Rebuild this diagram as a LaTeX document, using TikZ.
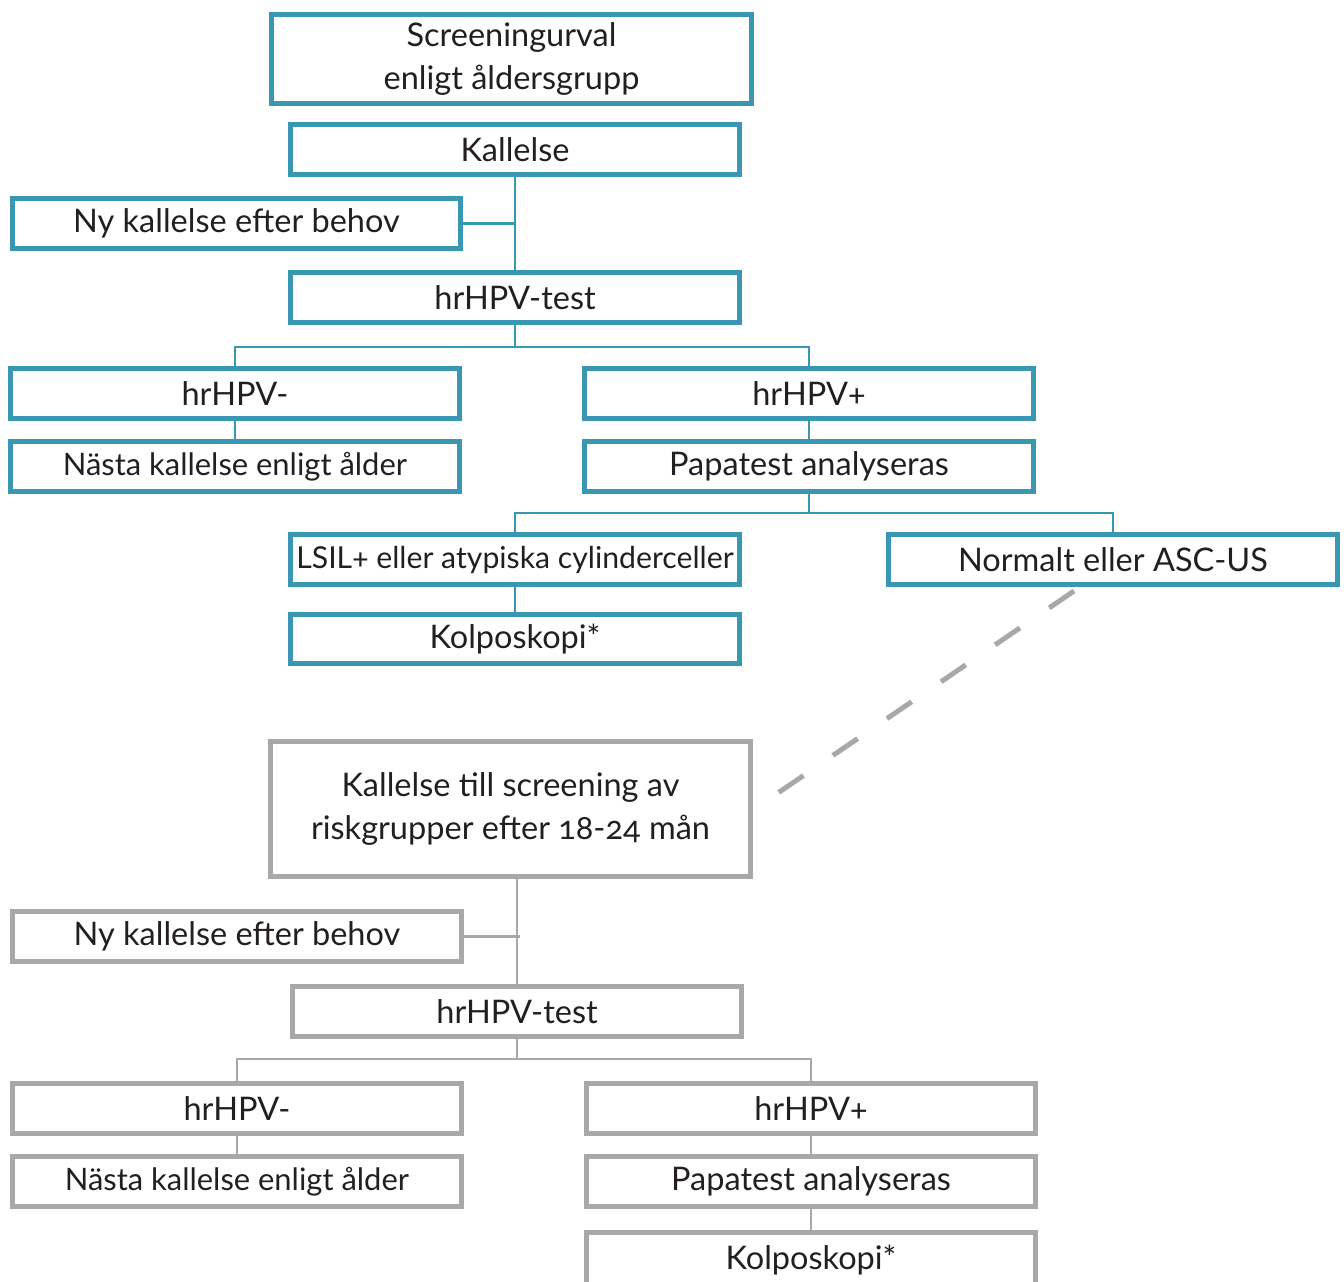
\documentclass[tikz,border=0pt]{standalone}
\usepackage{fontspec}
\setmainfont[Numbers=OldStyle]{Lato}
\usetikzlibrary{calc}
\definecolor{tealline}{HTML}{3A97B1}
\definecolor{grayline}{HTML}{A8A8A8}
\definecolor{textdark}{HTML}{231F20}
\begin{document}
\begin{tikzpicture}[x=0.02cm, y=-0.02cm,
    box/.style={line width=0.1cm, minimum width=8.98cm, minimum height=1cm, inner sep=0pt,
        align=center, text=textdark, font=\fontsize{18.5}{24}\selectfont},
    tealbox/.style={box, draw=tealline},
    graybox/.style={box, draw=grayline},
    tealconn/.style={draw=tealline, line width=0.05cm},
    grayconn/.style={draw=grayline, line width=0.05cm}
]
    \useasboundingbox (0,0) rectangle (1344,1281);
    % Upper part: ordinary screening
    \node[tealbox, minimum width=9.6cm, minimum height=1.78cm] (urval) at (511.5,59) {Screeningurval\\enligt åldersgrupp};
    \node[tealbox] (kal) at (515,149.5) {Kallelse};
    \node[tealbox] (ny) at (236.5,223.5) {Ny kallelse efter behov};
    \node[tealbox] (test) at (515,297.5) {hrHPV-test};
    \node[tealbox] (neg) at (235,393.5) {hrHPV-};
    \node[tealbox] (pos) at (809,393.5) {hrHPV+};
    \node[tealbox, font=\fontsize{17.6}{24}\selectfont] (nasta) at (235,466.5) {Nästa kallelse enligt ålder};
    \node[tealbox] (papa) at (809,466.5) {Papatest analyseras};
    \node[tealbox, font=\fontsize{17.2}{24}\selectfont] (lsil) at (515,559.5) {LSIL+ eller atypiska cylinderceller};
    \node[tealbox] (norm) at (1113,559.5) {Normalt eller ASC-US};
    \node[tealbox, minimum height=0.98cm] (kolpo) at (515,639) {Kolposkopi*};
    \draw[tealconn] (kal.south) -- (test.north);
    \draw[tealconn] (ny.east) -- (ny.east -| test.north);
    \draw[tealconn] (test.south) -- ++(0,22) -| (neg.north);
    \draw[tealconn] (test.south) ++(0,22) -| (pos.north);
    \draw[tealconn] (neg.south) -- (nasta.north);
    \draw[tealconn] (pos.south) -- (papa.north);
    \draw[tealconn] (papa.south) -- ++(0,19) -| (lsil.north);
    \draw[tealconn] (papa.south) ++(0,19) -| (norm.north);
    \draw[tealconn] (lsil.south) -- (kolpo.north);
    % Dashed link to the risk group screening
    \coordinate (dashtop) at (1074,591);
    \coordinate (dashend) at (772,797);
    \draw[grayline, line width=0.1cm, dash pattern=on 0.6cm off 0.71cm] (dashtop) -- (dashend);
    % Lower part: risk groups
    \node[graybox, minimum width=9.6cm, minimum height=2.7cm] (risk) at (510.5,809) {Kallelse till screening av\\riskgrupper efter 18-24 mån};
    \node[graybox] (ny2) at (237,936.5) {Ny kallelse efter behov};
    \node[graybox] (test2) at (517,1011.5) {hrHPV-test};
    \node[graybox] (neg2) at (237,1108.5) {hrHPV-};
    \node[graybox] (pos2) at (811,1108.5) {hrHPV+};
    \node[graybox, font=\fontsize{17.6}{24}\selectfont] (nasta2) at (237,1181.5) {Nästa kallelse enligt ålder};
    \node[graybox] (papa2) at (811,1181.5) {Papatest analyseras};
    \node[graybox, minimum height=1.1cm] (kolpo2) at (811,1260) {Kolposkopi*};
    \draw[grayconn] (test2.north |- risk.south) -- (test2.north);
    \draw[grayconn] (ny2.east) -- ($(ny2.east -| test2.north)+(3,0)$);
    \draw[grayconn] (test2.south) -- ++(0,20) -| (neg2.north);
    \draw[grayconn] (test2.south) ++(0,20) -| (pos2.north);
    \draw[grayconn] (neg2.south) -- (nasta2.north);
    \draw[grayconn] (pos2.south) -- (papa2.north);
    \draw[grayconn] (papa2.south) -- (kolpo2.north);
\end{tikzpicture}
\end{document}
